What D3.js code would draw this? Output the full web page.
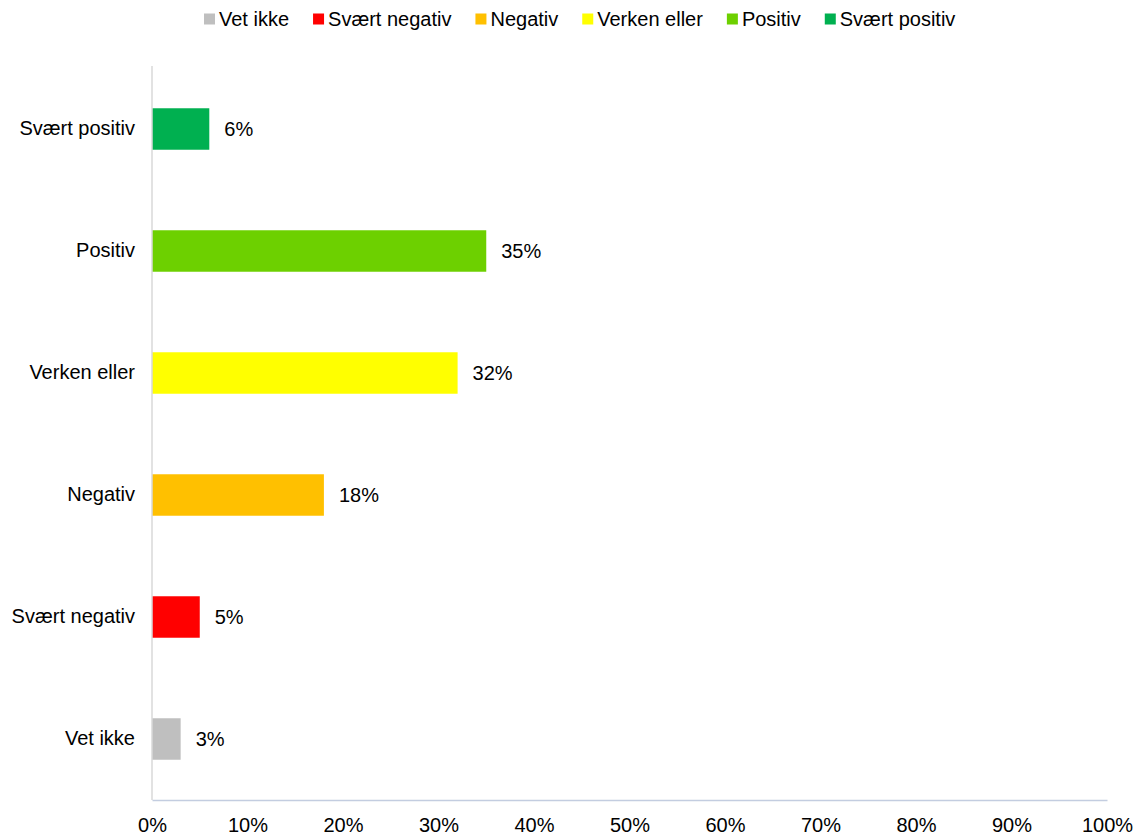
<!DOCTYPE html>
<html>
<head>
<meta charset="utf-8">
<script src="https://cdn.jsdelivr.net/npm/d3@7"></script>
<style>
  html, body { margin: 0; padding: 0; background: #ffffff; }
  svg { display: block; font-family: "Liberation Sans", Arial, sans-serif; }
</style>
</head>
<body>
<svg id="chart" width="1135" height="835"></svg>
<script>
// Answer categories, top to bottom
const categories = ["Svært positiv", "Positiv", "Verken eller", "Negativ", "Svært negativ", "Vet ikke"];
// Share of respondents (%)
const values = [6, 35, 32, 18, 5, 3];
const colors = ["#00b050", "#6dd000", "#ffff00", "#ffc000", "#ff0000", "#bfbfbf"];
// Legend order
const legendItems = ["Vet ikke", "Svært negativ", "Negativ", "Verken eller", "Positiv", "Svært positiv"];
const legendColors = ["#bfbfbf", "#ff0000", "#ffc000", "#ffff00", "#6dd000", "#00b050"];
const xTicks = [0, 10, 20, 30, 40, 50, 60, 70, 80, 90, 100];

const fontSize = 20;
const svg = d3.select("#chart");
const plot = { left: 152, right: 1107, top: 68, bottom: 800 };

const x = d3.scaleLinear().domain([0, 100]).range([plot.left, plot.right]);
const y = d3.scaleBand().domain(categories).range([plot.top, plot.bottom]).paddingInner(0.66).paddingOuter(0.33);

// Bars
svg.append("g").selectAll("rect")
  .data(categories)
  .join("rect")
  .attr("x", x(0))
  .attr("y", d => y(d))
  .attr("width", (d, i) => x(values[i]) - x(0))
  .attr("height", y.bandwidth())
  .attr("fill", (d, i) => colors[i]);

// Value labels
svg.append("g").selectAll("text")
  .data(categories)
  .join("text")
  .attr("x", (d, i) => x(values[i]) + 15)
  .attr("y", d => y(d) + y.bandwidth() / 2)
  .attr("dy", "0.35em")
  .attr("font-size", fontSize)
  .attr("fill", "#000")
  .text((d, i) => values[i] + "%");

// Category axis
const yAxis = svg.append("g")
  .attr("transform", `translate(${plot.left},0)`)
  .call(d3.axisLeft(y).tickSize(0).tickPadding(17));
yAxis.select(".domain").remove();
yAxis.selectAll("text").attr("font-size", fontSize).attr("fill", "#000").attr("font-family", "Liberation Sans, Arial, sans-serif");
svg.append("line")
  .attr("x1", plot.left).attr("x2", plot.left)
  .attr("y1", plot.top - 2).attr("y2", plot.bottom)
  .attr("stroke", "#d9d9d9").attr("stroke-width", 1.5);

// Value axis
const xAxis = svg.append("g")
  .attr("transform", `translate(0,${plot.bottom})`)
  .call(d3.axisBottom(x).tickValues(xTicks).tickSize(0).tickPadding(17.5).tickFormat(d => d + "%"));
xAxis.select(".domain").attr("stroke", "#c3cde0").attr("stroke-width", 1.5);
xAxis.selectAll("text").attr("font-size", fontSize).attr("fill", "#000").attr("font-family", "Liberation Sans, Arial, sans-serif");

// Legend
const legend = svg.append("g").attr("transform", "translate(0,19)");
let lx = 204;
legendItems.forEach((name, i) => {
  const g = legend.append("g").attr("transform", `translate(${lx},0)`);
  g.append("rect").attr("x", 0).attr("y", -5.5).attr("width", 11).attr("height", 11).attr("fill", legendColors[i]);
  const t = g.append("text").attr("x", 15).attr("dy", "0.35em").attr("font-size", fontSize).attr("fill", "#000").text(name);
  lx += 15 + t.node().getComputedTextLength() + 24;
});
</script>
</body>
</html>
